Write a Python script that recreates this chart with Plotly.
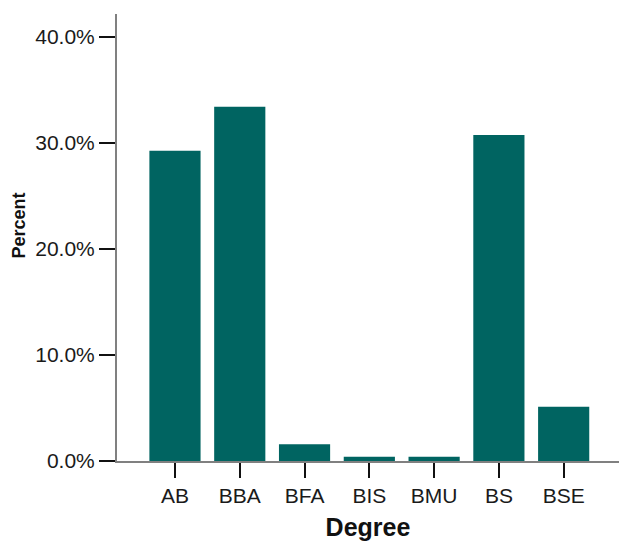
import plotly.graph_objects as go

degrees = ["AB", "BBA", "BFA", "BIS", "BMU", "BS", "BSE"]
percent = [0.2927, 0.3342, 0.0157, 0.0041, 0.0041, 0.3075, 0.0512]
y_ticks = [0.0, 0.1, 0.2, 0.3, 0.4]

fig = go.Figure(go.Bar(x=degrees, y=percent, marker=dict(color="#006461", line=dict(width=0))))

font = "Liberation Sans, Arial, Helvetica, sans-serif"
fig.update_layout(
    width=619, height=541,
    margin=dict(l=117, r=0, t=14, b=80, autoexpand=False),
    plot_bgcolor="white", paper_bgcolor="white",
    bargap=0.21,
    showlegend=False,
    font=dict(family=font, color="#1a1a1a"),
)
fig.update_xaxes(
    range=[-0.895, 6.854],
    showline=True, linecolor="#808080", linewidth=2,
    ticks="outside", ticklen=15, tickwidth=2, tickcolor="#111111",
    tickfont=dict(size=21, family=font, color="#1a1a1a"),
    showgrid=False, zeroline=False,
    title=dict(text="<b>Degree</b>", font=dict(size=25, family=font, color="#111111"), standoff=17),
)
fig.update_yaxes(
    range=[0, 0.4217],
    tickvals=y_ticks, tickformat=".1%",
    showline=True, linecolor="#808080", linewidth=2,
    ticks="outside", ticklen=16, tickwidth=2, tickcolor="#111111",
    tickfont=dict(size=21, family=font, color="#1a1a1a"),
    showgrid=False, zeroline=False,
)
fig.add_annotation(
    text="<b>Percent</b>", textangle=-90, showarrow=False,
    xref="paper", yref="paper", x=(18.5 - 117) / 502, y=(461 - 226) / 447,
    xanchor="center", yanchor="middle",
    font=dict(size=18, family=font, color="#111111"),
)
fig.write_html(
    "out.html",
    config={"displayModeBar": False},
    post_script="document.body.style.margin='0';document.body.style.overflow='hidden';",
)
